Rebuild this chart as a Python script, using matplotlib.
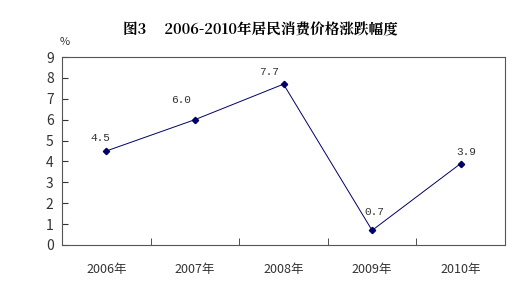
import matplotlib.pyplot as plt
import numpy as np

plt.rcParams['font.family'] = ['Noto Sans CJK SC', 'DejaVu Sans']

# ── Data ──────────────────────────────────────────────────────────────────────
years = ["2006年", "2007年", "2008年", "2009年", "2010年"]
cpi_change = [4.5, 6.0, 7.7, 0.7, 3.9]
label_offsets = [(-6, 13), (-14, 20), (-14, 12), (2, 18), (6, 12)]  # pixels

fig = plt.figure(figsize=(5.32, 2.9), dpi=100)
ax = fig.add_axes([62 / 532, 1 - 245 / 290, 443 / 532, 188 / 290])

x = np.arange(len(years))
ax.plot(x, cpi_change, color="#000066", lw=0.7, marker="D", ms=3.2,
        mfc="#000066", mec="#000066")

for xi, v, (dx, dy) in zip(x, cpi_change, label_offsets):
    ax.annotate(f"{v:.1f}", (xi, v), xytext=(dx, dy), textcoords="offset pixels",
                ha="center", va="center", fontsize=8, color="#333333",
                family="Liberation Mono")

ax.set_xlim(-0.5, len(years) - 0.5)
ax.set_ylim(0, 9)
ax.set_yticks(range(0, 10))
ax.tick_params(axis="y", direction="in", length=4, labelsize=10,
               colors="#333333", pad=6)
ax.set_xticks(x)
ax.set_xticklabels(years, fontsize=9, color="#333333")
ax.tick_params(axis="x", length=0, pad=13)
ax.set_xticks(np.arange(0.5, len(years) - 0.5), minor=True)
ax.tick_params(axis="x", which="minor", direction="in", length=5, color="#333333")

for s in ax.spines.values():
    s.set_color("#555555")
    s.set_linewidth(0.8)

fig.text(65 / 532, 1 - 42 / 290, "%", fontsize=8, color="#333333",
         ha="center", va="center")
fig.text(260 / 532, 1 - 30 / 290, "图3     2006-2010年居民消费价格涨跌幅度",
         fontsize=10.5, fontweight="bold", ha="center", va="center",
         family=["Noto Serif CJK SC", "Noto Sans CJK SC", "DejaVu Serif"])

fig.savefig("out.png", dpi=100, facecolor="white")
